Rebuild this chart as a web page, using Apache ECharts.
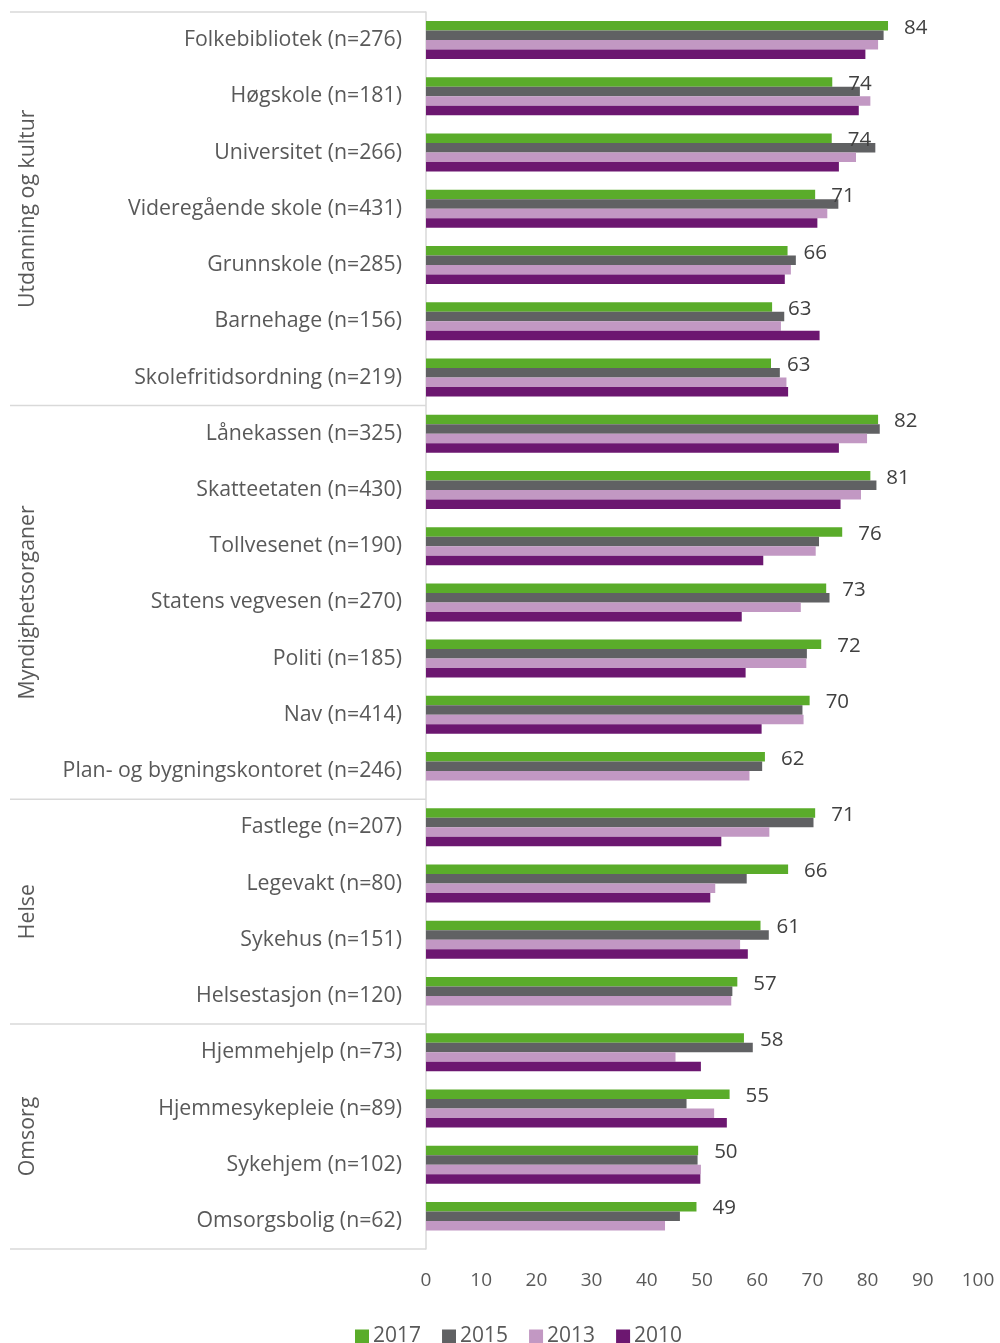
<!DOCTYPE html>
<html>
<head>
<meta charset="utf-8">
<script src="https://cdn.jsdelivr.net/npm/echarts@6/dist/echarts.min.js"></script>
<style>
  html, body { margin: 0; padding: 0; background: #fff; }
  #chart { width: 1000px; height: 1343px; }
</style>
</head>
<body>
<div id="chart"></div>
<script>
// kategorier, ovenfra og ned
const categories = [
  'Folkebibliotek (n=276)', 'Høgskole (n=181)', 'Universitet (n=266)', 'Videregående skole (n=431)',
  'Grunnskole (n=285)', 'Barnehage (n=156)', 'Skolefritidsordning (n=219)',
  'Lånekassen (n=325)', 'Skatteetaten (n=430)', 'Tollvesenet (n=190)', 'Statens vegvesen (n=270)',
  'Politi (n=185)', 'Nav (n=414)', 'Plan- og bygningskontoret (n=246)',
  'Fastlege (n=207)', 'Legevakt (n=80)', 'Sykehus (n=151)', 'Helsestasjon (n=120)',
  'Hjemmehjelp (n=73)', 'Hjemmesykepleie (n=89)', 'Sykehjem (n=102)', 'Omsorgsbolig (n=62)'
];
const groupNames = ['Utdanning og kultur', 'Myndighetsorganer', 'Helse', 'Omsorg'];
const groupSizes = [7, 7, 4, 4];

const v2017 = [84, 74, 74, 71, 66, 63, 63, 82, 81, 76, 73, 72, 70, 62, 71, 66, 61, 57, 58, 55, 50, 49];
const v2015 = [82.9, 78.6, 81.4, 74.7, 67.0, 64.9, 64.1, 82.2, 81.6, 71.2, 73.1, 69.0, 68.2, 60.9, 70.2, 58.1, 62.1, 55.5, 59.2, 47.2, 49.2, 46.0];
const v2013 = [81.9, 80.5, 77.9, 72.7, 66.1, 64.3, 65.3, 79.9, 78.8, 70.6, 67.9, 68.9, 68.4, 58.6, 62.2, 52.4, 56.9, 55.3, 45.2, 52.2, 49.8, 43.3];
const v2010 = [79.6, 78.4, 74.8, 70.9, 65.0, 71.3, 65.6, 74.8, 75.1, 61.1, 57.2, 57.9, 60.8, null, 53.5, 51.5, 58.3, null, 49.8, 54.5, 49.7, null];
// tegnet verdi for 2017 (etikett viser avrundet tall)
const v2017bar = [83.7, 73.6, 73.5, 70.5, 65.5, 62.7, 62.5, 81.9, 80.5, 75.4, 72.5, 71.6, 69.5, 61.4, 70.5, 65.6, 60.6, 56.4, 57.6, 55.0, 49.3, 49.0];

const xTicks = [0, 100, 10]; // min, max, intervall

const font = '"Open Sans", "Noto Sans", sans-serif';
const textColor = '#595959';
const lineColor = '#d9d9d9';

const chart = echarts.init(document.getElementById('chart'));

function barSeries(name, data, color, withLabel) {
  const s = {
    name: name,
    type: 'bar',
    data: data,
    barWidth: 9.5,
    barGap: '0%',
    itemStyle: { color: color },
    emphasis: { disabled: true },
    animation: false
  };
  if (withLabel) {
    s.label = {
      show: true,
      position: 'right',
      distance: 16,
      offset: [0, 2],
      color: '#404040',
      fontFamily: font,
      fontSize: 20.5,
      formatter: p => v2017[p.dataIndex]
    };
  }
  return s;
}

chart.setOption({
  animation: false,
  grid: { left: 426, right: 22, top: 12, bottom: 94, containLabel: false },
  legend: {
    top: 1321,
    left: 350,
    itemWidth: 14,
    itemHeight: 14,
    itemGap: 21,
    icon: 'rect',
    textStyle: { color: textColor, fontFamily: font, fontSize: 21, padding: [0, 0, 0, -1] },
    data: ['2017', '2015', '2013', '2010']
  },
  xAxis: {
    type: 'value',
    min: xTicks[0],
    max: xTicks[1],
    interval: xTicks[2],
    axisLine: { show: false },
    axisTick: { show: false },
    splitLine: { show: false },
    axisLabel: { color: textColor, fontFamily: font, fontSize: 19, margin: 22 }
  },
  yAxis: {
    type: 'category',
    inverse: true,
    data: categories,
    axisLine: { show: true, lineStyle: { color: lineColor, width: 1.5 } },
    axisTick: { show: false },
    axisLabel: { color: textColor, fontFamily: font, fontSize: 21.3, margin: 24, padding: [5, 0, 0, 0] }
  },
  series: [
    barSeries('2017', v2017bar, '#5AAC2A', true),
    barSeries('2015', v2015, '#606163', false),
    barSeries('2013', v2013, '#C298C3', false),
    barSeries('2010', v2010, '#6C1770', false)
  ]
});

// gruppeskiller og gruppetitler, plassert etter aksens skala
const yOf = c => chart.convertToPixel({ yAxisIndex: 0 }, c);
const band = yOf(categories[1]) - yOf(categories[0]);
const graphics = [];
let start = 0;
const edge = i => yOf(categories[Math.min(i, categories.length - 1)]) + (i < categories.length ? -band / 2 : band / 2);
graphics.push({ type: 'line', shape: { x1: 10, y1: edge(0), x2: 426, y2: edge(0) }, style: { stroke: lineColor, lineWidth: 1.5 }, silent: true });
groupNames.forEach((g, k) => {
  const end = start + groupSizes[k];
  const y0 = edge(start), y1 = edge(end);
  graphics.push({ type: 'line', shape: { x1: 10, y1: y1, x2: 426, y2: y1 }, style: { stroke: lineColor, lineWidth: 1.5 }, silent: true });
  graphics.push({
    type: 'text',
    x: 28,
    y: (y0 + y1) / 2,
    rotation: Math.PI / 2,
    style: { text: g, fill: textColor, font: '21.3px ' + font, textAlign: 'center', textVerticalAlign: 'middle' },
    silent: true
  });
  start = end;
});
chart.setOption({ graphic: graphics });

window.addEventListener('resize', () => chart.resize());
</script>
</body>
</html>
